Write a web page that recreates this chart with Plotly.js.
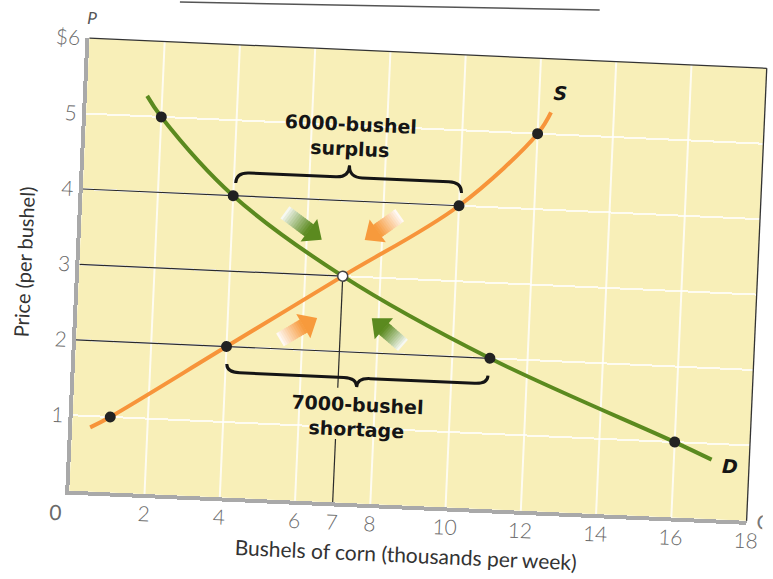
<!DOCTYPE html>
<html><head><meta charset="utf-8">
<script src="https://cdn.plot.ly/plotly-3.0.1.min.js"></script>
<style>
html,body{margin:0;padding:0;background:#fff;overflow:hidden;}
#wrap{width:773px;height:579px;transform-origin:418px 279.5px;transform:rotate(2.55deg);}
#chart{width:773px;height:579px;}
</style></head><body><div id="wrap"><div id="chart"></div></div>
<script>
// ---- data (quantity in thousands of bushels per week, price in $ per bushel)
const supplyQ = [0.48, 1, 4, 7, 10, 12, 12.33];
const supplyP = [0.85, 1, 2, 3, 4, 5, 5.29];
const demandQ = [1.6, 2, 4, 7, 11, 16, 17];
const demandP = [5.27, 5, 4, 3, 2, 1, 0.79];
const supplyPtQ = [1, 4, 10, 12];
const supplyPtP = [1, 2, 4, 5];
const demandPtQ = [2, 4, 11, 16];
const demandPtP = [5, 4, 2, 1];
const eqQ = [7];
const eqP = [3];
const guidePrice = [4, 3, 2];
const guideQty = [10, 7, 11];
const priceTicks = [1, 2, 3, 4, 5, 6];
const priceLabels = ['1', '2', '3', '4', '5', '$6'];
const qtyTicks = [2, 4, 6, 7, 8, 10, 12, 14, 16, 18];
const qtyLabels = ['2', '4', '6', '7', '8', '10', '12', '14', '16', '18'];
const qtyGrid = [2, 4, 6, 8, 10, 12, 14, 16];
const eqLineFrom = [3, 0.84];
const eqLineTo = [1.52, 0];
// braces: surplus, shortage
const braceStart = [4.05, 4.03];
const braceEnd = [10.05, 10.97];
const braceMid = [7.05, 7.5];
const braceTip = [4.17, 1.77];
const braceBar = [4.31, 1.66];
const bracePoint = [4.47, 1.54];
const braceLabel = ['6000-bushel<br>surplus', '7000-bushel<br>shortage'];
const braceLabelQ = [7.03, 7.55];
const braceLabelP = [4.85, 1.15];
// adjustment arrows
const arrowTailQ = [5.39, 8.44, 5.41, 8.68];
const arrowTailP = [3.81, 3.84, 2.12, 2.12];
const arrowHeadQ = [6.4, 7.54, 6.37, 7.82];
const arrowHeadP = [3.47, 3.49, 2.43, 2.46];
const arrowColor = ['#5b8a1f', '#f79a3c', '#f79a3c', '#5b8a1f'];

const W = 773, H = 579, ML = 79, MR = 16, MT = 53, MB = 73;
const plotW = W - ML - MR, plotH = H - MT - MB;
const sx = plotW / 18, sy = plotH / 6;

function hex2rgb(h){return [parseInt(h.slice(1,3),16),parseInt(h.slice(3,5),16),parseInt(h.slice(5,7),16)];}
function mix(a,b,f){const A=hex2rgb(a),B=hex2rgb(b);return 'rgb('+A.map((v,i)=>Math.round(v+(B[i]-v)*f)).join(',')+')';}

function arrowShapes(tq,tp,hq,hp,col){
  const dx=(hq-tq)*sx, dy=-(hp-tp)*sy;
  const L=Math.hypot(dx,dy), ux=dx/L, uy=dy/L, nx=-uy, ny=ux;
  const w=7.5, hw=14, hl=16, N=12, sl=L-hl;
  const pt=(a,b)=>{const q=tq+(ux*a+nx*b)/sx, p=tp-(uy*a+ny*b)/sy; return q.toFixed(4)+','+p.toFixed(4);};
  const out=[];
  for(let i=0;i<N;i++){
    const a0=sl*i/N, a1=Math.min(sl+0.5, sl*(i+1)/N+0.8);
    const f=Math.pow((i+0.5)/N,0.9);
    out.push({type:'path',xref:'x',yref:'y',path:'M'+pt(a0,-w)+' L'+pt(a1,-w)+' L'+pt(a1,w)+' L'+pt(a0,w)+' Z',
      fillcolor:mix('#ffffff',col,f),line:{width:0},layer:'above'});
  }
  out.push({type:'path',xref:'x',yref:'y',path:'M'+pt(sl,-hw)+' L'+pt(L,0)+' L'+pt(sl,hw)+' Z',
    fillcolor:col,line:{width:0},layer:'above'});
  return out;
}
function bracePath(x1,x2,xc,yt,yb,yp){
  const r=0.35;
  return 'M'+x1+','+yt+' Q'+x1+','+yb+' '+(x1+r)+','+yb+' L'+(xc-r)+','+yb+' Q'+xc+','+yb+' '+xc+','+yp+
    ' Q'+xc+','+yb+' '+(xc+r)+','+yb+' L'+(x2-r)+','+yb+' Q'+x2+','+yb+' '+x2+','+yt;
}

const traces = [];
guidePrice.forEach((p,i)=>traces.push({x:[0,guideQty[i]],y:[p,p],mode:'lines',line:{color:'#2a2a2a',width:1.2},hoverinfo:'skip',showlegend:false}));
eqLineFrom.forEach((p,i)=>traces.push({x:[eqQ[0],eqQ[0]],y:[p,eqLineTo[i]],mode:'lines',line:{color:'#2a2a2a',width:1.2},hoverinfo:'skip',showlegend:false,cliponaxis:false}));
traces.push({x:supplyQ,y:supplyP,mode:'lines',line:{color:'#f7943a',width:4,shape:'spline',smoothing:1},name:'S',showlegend:false});
traces.push({x:demandQ,y:demandP,mode:'lines',line:{color:'#5b8a1f',width:4,shape:'spline',smoothing:1},name:'D',showlegend:false});
traces.push({x:supplyPtQ.concat(demandPtQ),y:supplyPtP.concat(demandPtP),mode:'markers',marker:{color:'#222',size:11},showlegend:false});
traces.push({x:eqQ,y:eqP,mode:'markers',marker:{color:'#ffffff',size:10,line:{color:'#444',width:1.5}},showlegend:false});

const shapes = [];
qtyGrid.forEach(q=>shapes.push({type:'line',xref:'x',yref:'paper',x0:q,x1:q,y0:0,y1:1,line:{color:'rgba(255,255,255,0.8)',width:2},layer:'below'}));
braceStart.forEach((s,i)=>shapes.push({type:'path',xref:'x',yref:'y',path:bracePath(s,braceEnd[i],braceMid[i],braceTip[i],braceBar[i],bracePoint[i]),line:{color:'#151515',width:3}}));
arrowTailQ.forEach((t,i)=>arrowShapes(t,arrowTailP[i],arrowHeadQ[i],arrowHeadP[i],arrowColor[i]).forEach(s=>shapes.push(s)));
shapes.push({type:'line',xref:'paper',yref:'paper',x0:0,x1:1,y0:1,y1:1,line:{color:'#333',width:1.3}});
shapes.push({type:'line',xref:'paper',yref:'paper',x0:1,x1:1,y0:0,y1:1,line:{color:'#333',width:1.3}});
shapes.push({type:'line',xref:'paper',yref:'paper',x0:0.131,x1:0.75,y0:1.0885,y1:1.112,line:{color:'#555',width:1.5}});

const annotations = [];
braceLabel.forEach((t,i)=>annotations.push({x:braceLabelQ[i],y:braceLabelP[i],text:'<b>'+t+'</b>',showarrow:false,font:{family:'DejaVu Sans',size:19,color:'#151515'}}));
annotations.push({x:12.55,y:5.55,text:'<b><i>S</i></b>',showarrow:false,font:{family:'DejaVu Sans',size:19,color:'#151515'}});
annotations.push({x:17.5,y:0.72,text:'<b><i>D</i></b>',showarrow:false,font:{family:'DejaVu Sans',size:19,color:'#151515'}});
annotations.push({xref:'paper',yref:'paper',x:0.0025,y:1.0446,xanchor:'center',yanchor:'middle',text:'<i>P</i>',showarrow:false,font:{family:'Lato',size:17,color:'#555'}});
annotations.push({xref:'paper',yref:'paper',x:1.0115,y:0.0,xanchor:'left',yanchor:'middle',text:'Q',showarrow:false,font:{family:'Lato',size:20,color:'#777'}});
annotations.push({xref:'paper',yref:'paper',x:-0.0196,y:-0.0464,xanchor:'center',yanchor:'middle',text:'0',showarrow:false,font:{family:'Lato',size:21,color:'#6a6a6a'}});

const layout = {
  width:W,height:H,margin:{l:ML,r:MR,t:MT,b:MB},
  paper_bgcolor:'#ffffff',plot_bgcolor:'#f8efb8',
  showlegend:false,
  xaxis:{range:[0,18],tickvals:qtyTicks,ticktext:qtyLabels,showgrid:false,zeroline:false,
    showline:true,linecolor:'#a9a9a9',linewidth:4,ticks:'',ticklabelstandoff:-2,
    tickfont:{family:'Lato',size:21,color:'#6a6a6a',weight:300},
    title:{text:'Bushels of corn (thousands per week)',font:{family:'Lato',size:21,color:'#333'},standoff:13}},
  yaxis:{range:[0,6],tickvals:priceTicks,ticktext:priceLabels,showgrid:true,gridcolor:'rgba(255,255,255,0.8)',gridwidth:2,zeroline:false,
    showline:true,linecolor:'#a9a9a9',linewidth:4,ticks:'',ticklabelstandoff:1,
    tickfont:{family:'Lato',size:21,color:'#6a6a6a',weight:300},
    title:{text:'Price (per bushel)',font:{family:'Lato',size:20,color:'#333'},standoff:9}},
  shapes:shapes,annotations:annotations
};
Plotly.newPlot('chart',traces,layout,{displayModeBar:false,staticPlot:true});
</script></body></html>
